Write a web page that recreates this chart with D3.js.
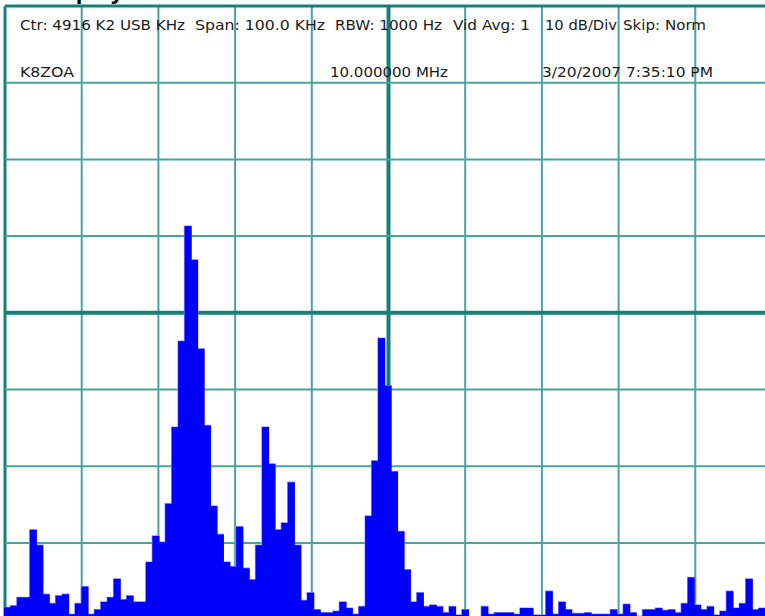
<!DOCTYPE html>
<html>
<head>
<meta charset="utf-8">
<script src="https://cdn.jsdelivr.net/npm/d3@7"></script>
<style>
  html, body { margin: 0; padding: 0; background: #fff; overflow: hidden; }
  svg { display: block; }
</style>
</head>
<body>
<svg id="chart" width="765" height="616"></svg>
<script>
// ---- data -------------------------------------------------------------
// Signal level per analyzer bin, dB above the bottom graticule line
const binLevels = [
  1.6, 1.8, 2.9, 2.9, 11.7, 9.7, 3.3, 2.1, 3.1, 3.3,
  0.7, 2.1, 4.3, 0.7, 1.3, 2.3, 2.9, 5.3, 2.6, 3.1,
  2.3, 2.3, 7.5, 10.9, 10.1, 15.1, 25.1, 36.3, 51.3, 46.9,
  35.3, 25.3, 14.8, 11.1, 7.5, 6.9, 12.1, 6.7, 5.2, 9.7,
  25.1, 20.3, 11.7, 12.6, 17.9, 9.7, 2.5, 3.5, 1.3, 0.9,
  0.9, 1.1, 2.3, 1.5, 0.7, 1.7, 13.5, 20.7, 36.7, 30.5,
  19.3, 11.5, 6.5, 2.3, 3.5, 1.7, 1.9, 1.7, 0.9, 1.7,
  0.6, 1.3, 0.3, 0.2, 1.7, 0.7, 0.9, 0.9, 0.9, 0.7,
  1.5, 1.5, 0.6, 0.6, 3.7, 0.7, 2.3, 1.3, 0.8, 0.8,
  0.9, 0.7, 0.7, 0.7, 1.3, 0.7, 2.0, 0.9, 0.4, 1.3,
  1.3, 1.5, 1.2, 1.3, 0.9, 2.1, 5.5, 1.9, 1.3, 1.7,
  0.6, 1.1, 3.7, 1.5, 2.1, 5.3, 1.3, 1.5, 1.4
];

// Frequency offset from centre (kHz) and level (dB) graticule ticks
const freqTicks = [-50, -40, -30, -20, -10, 0, 10, 20, 30, 40, 50];
const levelTicks = [0, 10, 20, 30, 40, 50, 60, 70, 80];

// Status lines printed inside the graticule
const statusRow1 = ["Ctr: 4916 K2 USB KHz", "Span: 100.0 KHz", "RBW: 1000 Hz",
                    "Vid Avg: 1", "10 dB/Div", "Skip: Norm"];
const statusRow2 = ["K8ZOA", "10.000000 MHz", "3/20/2007 7:35:10 PM"];
const titleText = "Display";

// ---- layout -----------------------------------------------------------
const plot = { left: 5, top: 6, right: 772, bottom: 619.6 };
const row1Layout = [[20, 165], [195, 130], [335, 107], [453, 77], [545, 72], [623, 83]];
const row2Layout = [[20, 54], [330, 118], [542, 171]];

const svg = d3.select("#chart");

const x = d3.scaleLinear().domain([-50, 50]).range([plot.left, plot.right]);
const y = d3.scaleLinear().domain([0, 80]).range([plot.bottom, plot.top]);
const band = d3.scaleBand()
  .domain(d3.range(binLevels.length))
  .range([4, 771.5])
  .padding(0);

// title line above the graticule (only its descenders fall inside the view)
svg.append("text")
  .attr("x", 38.5).attr("y", -1)
  .attr("font-family", "Liberation Sans, Arial, sans-serif")
  .attr("font-weight", "bold")
  .attr("font-size", 24)
  .attr("fill", "#000")
  .text(titleText);

// ---- graticule --------------------------------------------------------
const thinColor = "#49a39e", thickColor = "#15807a";
const grid = svg.append("g");

grid.selectAll("line.v")
  .data(freqTicks)
  .join("line")
  .attr("x1", d => x(d)).attr("x2", d => x(d))
  .attr("y1", plot.top).attr("y2", plot.bottom)
  .attr("stroke", d => (d === 0 || Math.abs(d) === 50) ? thickColor : thinColor)
  .attr("stroke-width", d => d === 0 ? 4 : Math.abs(d) === 50 ? 3 : 2);

grid.selectAll("line.h")
  .data(levelTicks)
  .join("line")
  .attr("x1", plot.left).attr("x2", plot.right)
  .attr("y1", d => y(d)).attr("y2", d => y(d))
  .attr("stroke", d => (d === 40 || d === 0 || d === 80) ? thickColor : thinColor)
  .attr("stroke-width", d => d === 40 ? 4 : (d === 0 || d === 80) ? 3 : 2);

// ---- spectrum bars ----------------------------------------------------
const bars = svg.append("g");

// soft outline along the top of the trace, laid under the solid bars
const outline = d3.area()
  .curve(d3.curveStepAfter)
  .x(d => d.x)
  .y0(y(0))
  .y1(d => y(d.v));
const stepPts = binLevels.map((v, i) => ({ x: band(i), v }));
stepPts.push({ x: band(binLevels.length - 1) + band.bandwidth(), v: binLevels[binLevels.length - 1] });
bars.append("path")
  .datum(stepPts)
  .attr("d", outline)
  .attr("fill", "#0000ff")
  .attr("stroke", "#9090ff")
  .attr("stroke-width", 1.4);

bars.append("g").selectAll("rect")
  .data(binLevels)
  .join("rect")
  .attr("x", (d, i) => band(i))
  .attr("y", d => y(d))
  .attr("width", band.bandwidth() + 0.6)
  .attr("height", d => y(0) - y(d))
  .attr("fill", "#0000ff");

// ---- status text ------------------------------------------------------
const textStyle = sel => sel
  .attr("font-family", "DejaVu Sans, sans-serif")
  .attr("font-size", 14)
  .attr("fill", "#1a1a1a")
  .attr("lengthAdjust", "spacingAndGlyphs");

textStyle(svg.append("g").selectAll("text")
  .data(statusRow1)
  .join("text")
  .attr("x", (d, i) => row1Layout[i][0])
  .attr("y", 30)
  .attr("textLength", (d, i) => row1Layout[i][1])
  .text(d => d));

textStyle(svg.append("g").selectAll("text")
  .data(statusRow2)
  .join("text")
  .attr("x", (d, i) => row2Layout[i][0])
  .attr("y", 77)
  .attr("textLength", (d, i) => row2Layout[i][1])
  .text(d => d));
</script>
</body>
</html>
